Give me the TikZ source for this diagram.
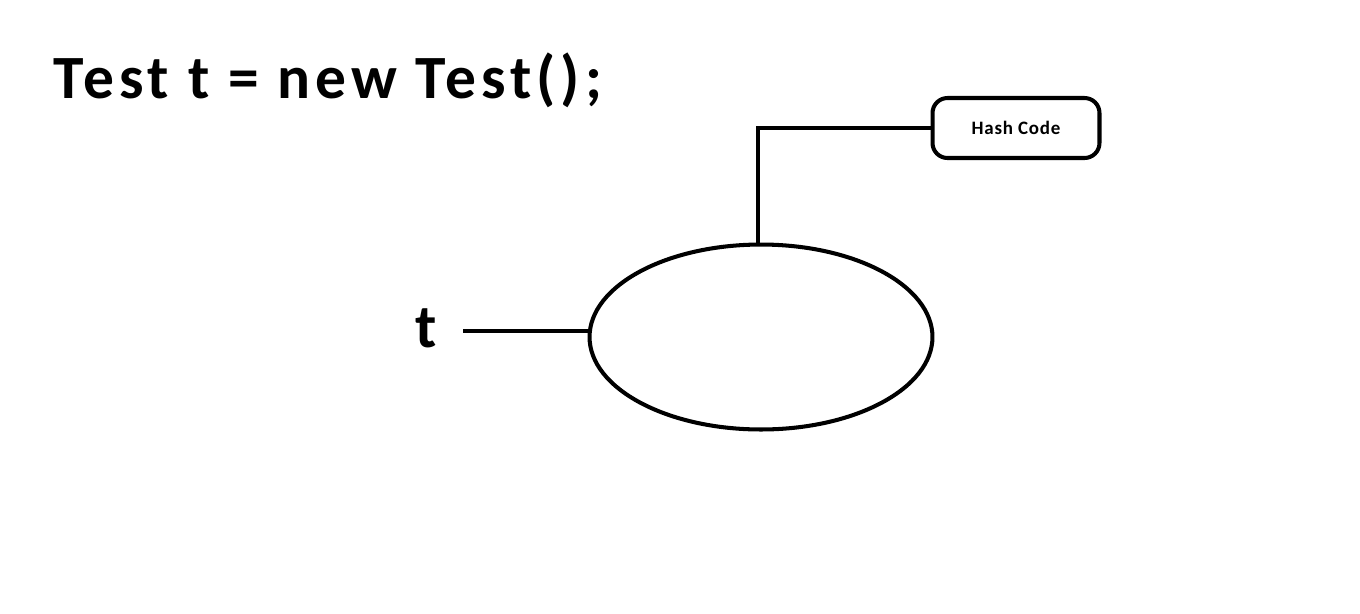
\documentclass[tikz,border=0pt]{standalone}
\usepackage{fontspec}
\setmainfont{Carlito}
\usetikzlibrary{shapes.geometric}
\usetikzlibrary{calc}

\begin{document}
\begin{tikzpicture}[x=0.02cm, y=-0.02cm]
        % 样式:粗黑线,对象椭圆,哈希码圆角框
        \tikzstyle{link}=[line width=2.3pt, black]
        \tikzstyle{objnode}=[ellipse, draw=black, line width=2.3pt, minimum width=6.86cm, minimum height=3.7cm, inner sep=0pt]
        \tikzstyle{hashbox}=[rectangle, rounded corners=0.3cm, draw=black, line width=2.3pt, minimum width=3.34cm, minimum height=1.2cm, font=\fontsize{10.8}{12}\selectfont\bfseries\addfontfeature{LetterSpace=4}]
        \tikzstyle{bigtext}=[inner sep=0pt, font=\fontsize{35}{40}\selectfont\bfseries\addfontfeature{LetterSpace=8}]
        
        % 画布大小 (与参考图同比例)
        \useasboundingbox (0,0) rectangle (1360,613);
        
        % 顶部语句
        \node[bigtext, anchor=base west] (stmt) at (53,98) {Test t = new Test();};
        
        % 对象与引用变量
        \node[objnode] (obj) at (761,337) {};
        \node[bigtext, inner xsep=0.52cm, anchor=base] (tvar) at (426,347) {t};
        \node[hashbox] (hash) at (1016,128) {Hash Code};
        
        % 连线
        \draw[link] (tvar.east |- 0,331) -- (obj.west |- 0,331);
        \draw[link] (obj.92.5) |- (hash.west);
    \end{tikzpicture}
\end{document}
